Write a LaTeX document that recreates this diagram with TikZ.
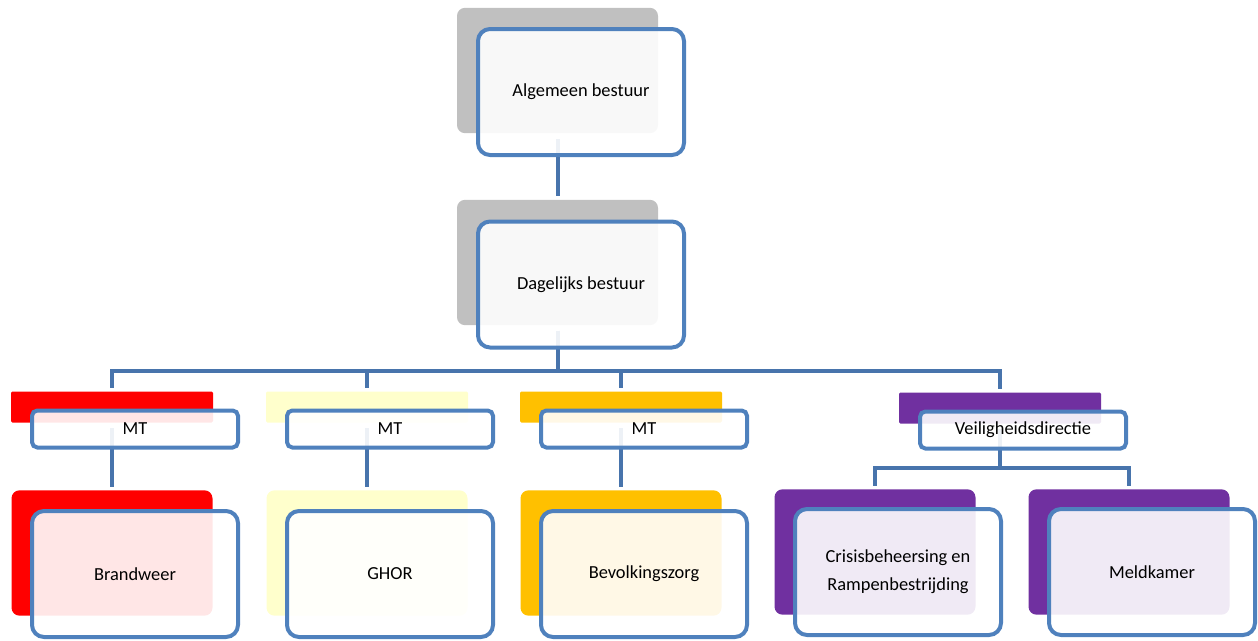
\documentclass[tikz,border=0pt]{standalone}
\usepackage{fontspec}
\setmainfont{Carlito}
\usepackage{xcolor}

\definecolor{linkblue}{HTML}{4874AC}
\definecolor{boxblue}{HTML}{4F81BD}
\definecolor{topgray}{HTML}{C0C0C0}
\definecolor{brandred}{HTML}{FF0000}
\definecolor{ghoryellow}{HTML}{FFFFCC}
\definecolor{bzorange}{HTML}{FFC000}
\definecolor{vdpurple}{HTML}{7030A0}

\begin{document}
\begin{tikzpicture}[x=0.75pt, y=-0.75pt, font=\fontsize{13.8}{21}\selectfont,
    backbox/.style={rectangle, inner sep=0pt, minimum width=150.75pt, minimum height=94pt, rounded corners=6pt},
    backbar/.style={rectangle, inner sep=0pt, minimum width=151.5pt, minimum height=23.25pt, rounded corners=1pt},
    frontbox/.style={rectangle, draw=boxblue, line width=3pt, fill=white, fill opacity=0.9, text opacity=1,
        inner sep=2pt, minimum width=154.5pt, minimum height=94.5pt, rounded corners=9pt, align=center},
    frontbar/.style={frontbox, minimum height=27.75pt, rounded corners=4pt},
    link/.style={draw=linkblue, line width=3pt, shorten <=4pt, shorten >=2.5pt}]

    \useasboundingbox (0,0) rectangle (1258,640);

    % Back boxes
    \node[backbox, fill=topgray] (ab-back) at (557.5,70.5) {};
    \node[backbox, fill=topgray] (db-back) at (557.5,262.5) {};
    \foreach \n/\x/\col in {bw/112/brandred, gh/367/ghoryellow, bz/621/bzorange}
    {
        \node[backbar, fill=\col] (mt\n-back) at (\x,407) {};
        \node[backbox, fill=\col] (\n-back) at (\x,553) {};
    }
    \node[backbar, fill=vdpurple] (vd-back) at (1000,408) {};
    \node[backbox, fill=vdpurple] (cr-back) at (875,552) {};
    \node[backbox, fill=vdpurple] (mk-back) at (1129,552) {};

    % Connectors
    \draw[link] (ab-back) -- (db-back);
    \foreach \m in {mtbw,mtgh,mtbz,vd}
    {
        \draw[link] (db-back.south) -- ++(0,46) -| (\m-back.north);
    }
    \foreach \n in {bw,gh,bz}
    {
        \draw[link] (mt\n-back) -- (\n-back);
    }
    \draw[link] (vd-back.south) -- ++(0,44) -| (cr-back.north);
    \draw[link] (vd-back.south) -- ++(0,44) -| (mk-back.north);

    % Front boxes
    \node[frontbox] (ab) at (581,92) {Algemeen bestuur};
    \node[frontbox] (db) at (581,284.5) {Dagelijks bestuur};
    \foreach \n/\x/\lbl in {bw/112/Brandweer, gh/367/GHOR, bz/621/Bevolkingszorg}
    {
        \node[frontbar] (mt\n) at (\x+23,429) {MT};
        \node[frontbox] (\n) at (\x+23,574) {\lbl};
    }
    \node[frontbar] (vd) at (1023,430) {Veiligheidsdirectie};
    \node[frontbox] (cr) at (898,572) {Crisisbeheersing en\\Rampenbestrijding};
    \node[frontbox] (mk) at (1152,572) {Meldkamer};

\end{tikzpicture}
\end{document}
